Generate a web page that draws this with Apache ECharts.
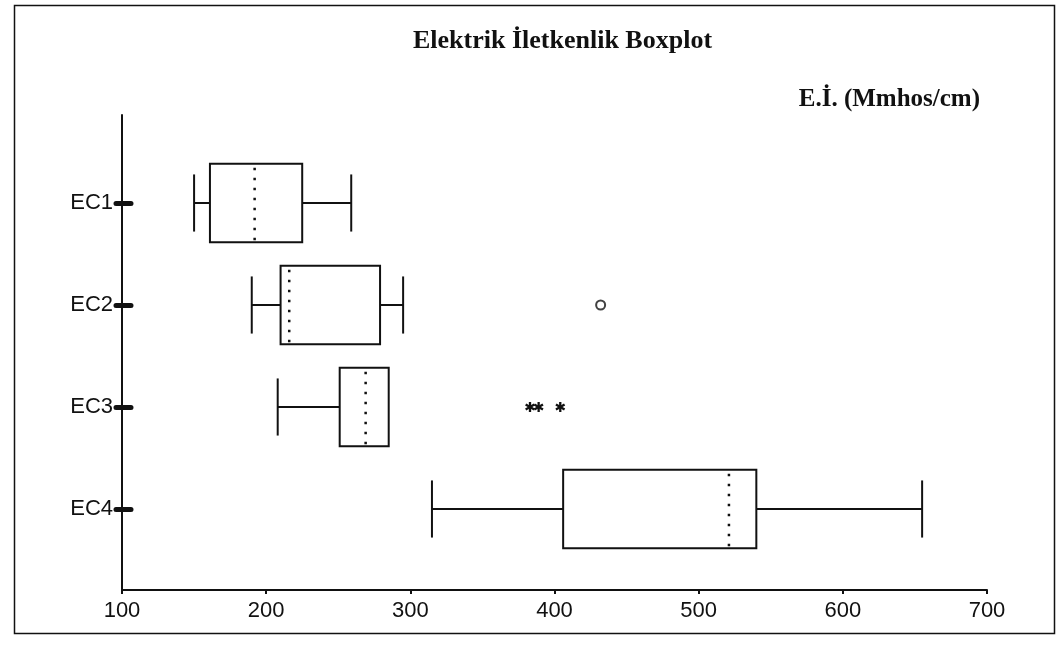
<!DOCTYPE html>
<html>
<head>
<meta charset="utf-8">
<script src="https://cdn.jsdelivr.net/npm/echarts@6/dist/echarts.min.js"></script>
<style>
  html, body { margin: 0; background: #fff; }
  #chart { width: 1064px; height: 647px; }
</style>
</head>
<body>
<div id="chart"></div>
<script>
// Boxplot values (Mmhos/cm)
const categories = ['EC1', 'EC2', 'EC3', 'EC4'];
const whiskerLow = [150, 190, 208, 315];
const quartile1 = [161, 210, 251, 406];
const medians = [192, 216, 269, 521];
const quartile3 = [225, 279, 285, 540];
const whiskerHigh = [259, 295, 285, 655];
// outliers: circle = mild, asterisk = extreme
const circleOutliers = [[432, 'EC2']];
const starOutliers = [[383, 'EC3'], [389, 'EC3'], [404, 'EC3']];
const xMin = 100;
const xMax = 700;
const xStep = 100;

const chart = echarts.init(document.getElementById('chart'));

const boxData = categories.map((c, i) => [
  c, whiskerLow[i], quartile1[i], medians[i], quartile3[i], whiskerHigh[i],
]);

const ink = '#111';

function renderBox(params, api) {
  const idx = api.value(0);
  const xs = [1, 2, 3, 4, 5].map((d) => api.coord([api.value(d), idx])[0]);
  const yc = api.coord([api.value(1), idx])[1];
  const band = api.size([0, 1])[1];
  const h = band * 0.385;
  const cap = band * 0.28;
  const style = { stroke: ink, lineWidth: 2, fill: null };
  const line = (x1, y1, x2, y2, s) => ({
    type: 'line',
    shape: { x1, y1, x2, y2 },
    style: s || style,
  });
  const children = [];
  // lower whisker + cap
  if (xs[0] < xs[1]) {
    children.push(line(xs[0], yc, xs[1], yc));
    children.push(line(xs[0], yc - cap, xs[0], yc + cap));
  }
  // upper whisker + cap (none when it coincides with Q3)
  if (xs[4] > xs[3]) {
    children.push(line(xs[3], yc, xs[4], yc));
    children.push(line(xs[4], yc - cap, xs[4], yc + cap));
  }
  children.push({
    type: 'rect',
    shape: { x: xs[1], y: yc - h, width: xs[3] - xs[1], height: 2 * h },
    style: { stroke: ink, lineWidth: 2, fill: '#fff' },
  });
  // dotted median
  children.push(line(xs[2], yc - h + 4, xs[2], yc + h - 2, {
    stroke: ink, lineWidth: 2.5, lineDash: [2.5, 7.5],
  }));
  return { type: 'group', children };
}

function renderStar(params, api) {
  const p = api.coord([api.value(0), api.value(1)]);
  const r = 5;
  const style = { stroke: ink, lineWidth: 2.3 };
  const children = [0, 60, 120].map((deg) => {
    const a = (deg * Math.PI) / 180;
    return {
      type: 'line',
      shape: {
        x1: p[0] - r * Math.sin(a), y1: p[1] - r * Math.cos(a),
        x2: p[0] + r * Math.sin(a), y2: p[1] + r * Math.cos(a),
      },
      style,
    };
  });
  return { type: 'group', children };
}

const option = {
  animation: false,
  backgroundColor: '#fff',
  title: [
    {
      text: 'Elektrik İletkenlik Boxplot',
      left: 408,
      top: 23,
      textStyle: { fontFamily: 'Liberation Serif', fontWeight: 'bold', fontSize: 26, color: ink },
    },
    {
      text: 'E.İ. (Mmhos/cm)',
      right: 79,
      top: 82,
      textStyle: { fontFamily: 'Liberation Serif', fontWeight: 'bold', fontSize: 25, color: ink },
    },
  ],
  graphic: [
    {
      type: 'rect',
      left: 12,
      top: 3,
      shape: { width: 1040, height: 628 },
      style: { fill: null, stroke: ink, lineWidth: 1.5 },
      silent: true,
    },
  ],
  grid: [
    { left: 122, right: 77, top: 152, height: 408, outerBoundsMode: 'none' },
    { left: 122, right: 77, top: 115, bottom: 57, outerBoundsMode: 'none' },
  ],
  xAxis: [
    { gridIndex: 0, type: 'value', min: xMin, max: xMax, show: false },
    {
      gridIndex: 1,
      type: 'value',
      min: xMin,
      max: xMax,
      interval: xStep,
      axisLine: { show: true, lineStyle: { color: ink, width: 2 } },
      axisTick: { show: true, length: 4, lineStyle: { color: ink, width: 2 } },
      splitLine: { show: false },
      axisLabel: { fontFamily: 'Liberation Sans', fontSize: 22, color: ink, margin: 10 },
    },
  ],
  yAxis: [
    {
      gridIndex: 0,
      type: 'category',
      position: 'left',
      data: categories,
      inverse: true,
      axisLine: { show: false },
      axisTick: { show: true, alignWithLabel: true, length: 6, lineStyle: { color: ink, width: 5, cap: 'round' } },
      axisLabel: { fontFamily: 'Liberation Sans', fontSize: 22, color: ink, margin: 9 },
      splitLine: { show: false },
    },
    {
      gridIndex: 0,
      type: 'category',
      position: 'left',
      data: categories,
      inverse: true,
      axisLine: { show: false },
      axisTick: { show: true, inside: true, alignWithLabel: true, length: 9, lineStyle: { color: ink, width: 5, cap: 'round' } },
      axisLabel: { show: false },
      splitLine: { show: false },
    },
    {
      gridIndex: 1,
      type: 'value',
      position: 'left',
      min: 0,
      max: 1,
      axisLine: { show: true, lineStyle: { color: ink, width: 2 } },
      axisTick: { show: false },
      axisLabel: { show: false },
      splitLine: { show: false },
    },
  ],
  series: [
    {
      name: 'box',
      type: 'custom',
      xAxisIndex: 0,
      yAxisIndex: 0,
      renderItem: renderBox,
      encode: { y: 0, x: [1, 2, 3, 4, 5] },
      data: boxData,
      silent: true,
    },
    {
      name: 'outlier',
      type: 'scatter',
      xAxisIndex: 0,
      yAxisIndex: 0,
      symbol: 'circle',
      symbolSize: 9,
      itemStyle: { color: '#fff', borderColor: ink, borderWidth: 2 },
      data: circleOutliers,
      silent: true,
    },
    {
      name: 'extreme',
      type: 'custom',
      xAxisIndex: 0,
      yAxisIndex: 0,
      renderItem: renderStar,
      encode: { x: 0, y: 1 },
      data: starOutliers,
      silent: true,
    },
  ],
};

chart.setOption(option);
window.addEventListener('resize', () => chart.resize());
</script>
</body>
</html>
